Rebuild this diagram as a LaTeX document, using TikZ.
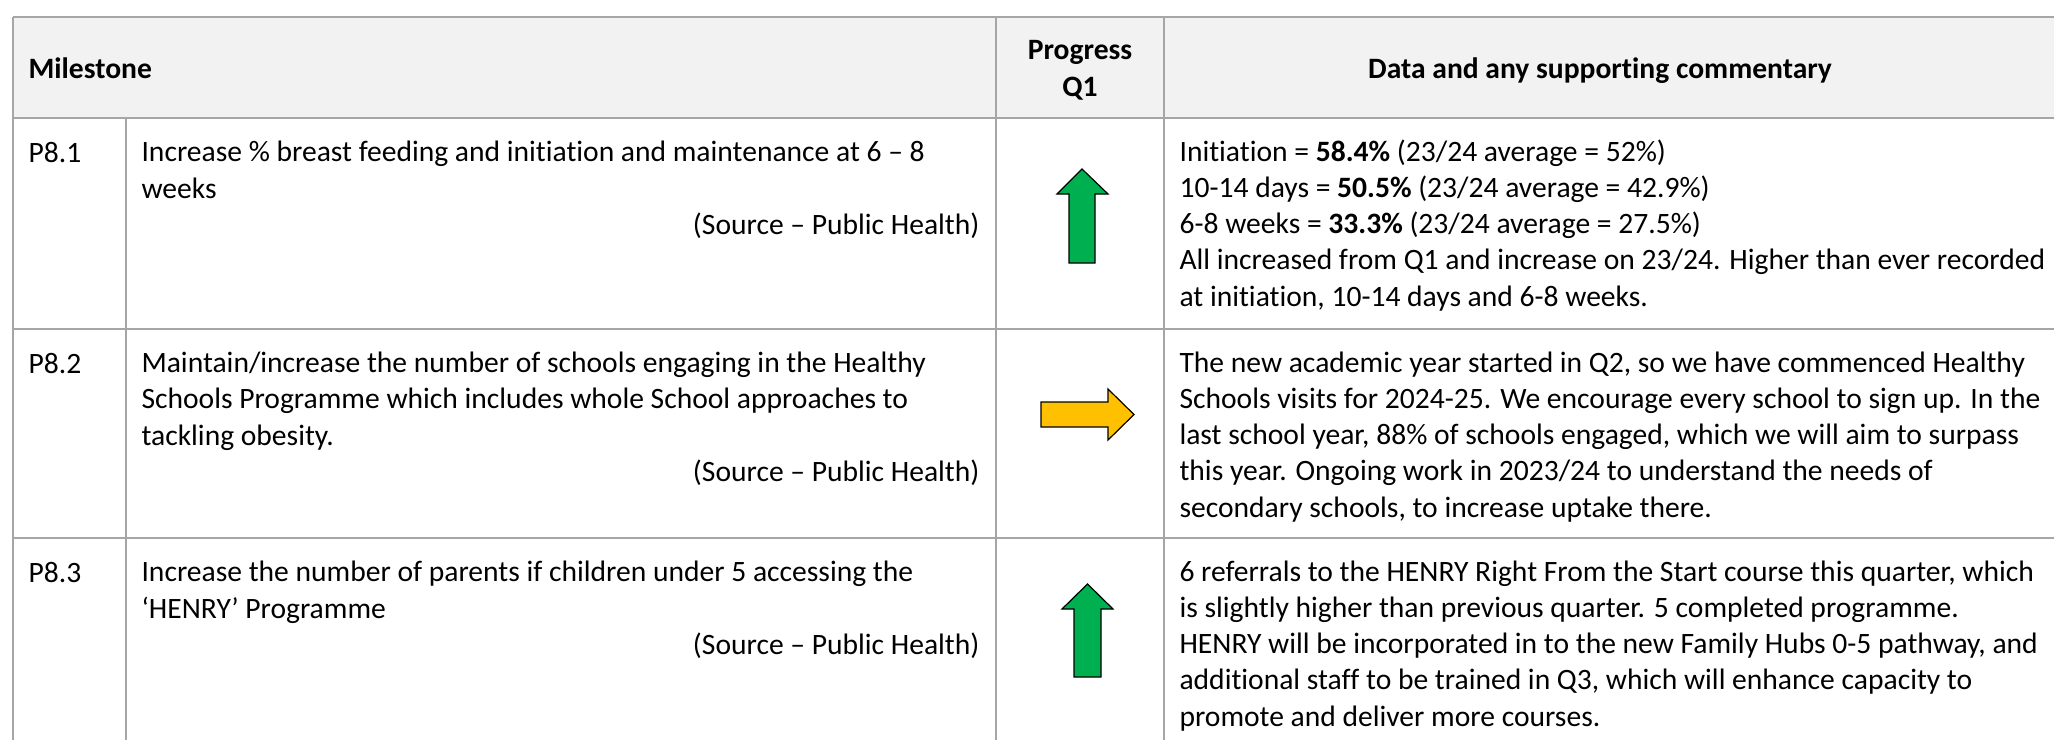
\documentclass[tikz,border=0pt]{standalone}
\usepackage{fontspec}
\setmainfont{Carlito}[Ligatures=NoCommon]
\usetikzlibrary{positioning}
\usetikzlibrary{shapes}

\definecolor{gridgray}{HTML}{A6A6A6}
\definecolor{headfill}{HTML}{F2F2F2}
\definecolor{upgreen}{HTML}{00B050}
\definecolor{flatamber}{HTML}{FFC000}

\begin{document}
\begin{tikzpicture}[x=0.372pt,y=-0.372pt]
	\tikzstyle{cell} = [anchor=base west, inner sep=0pt, align=left, font=\fontsize{11}{13.4}\selectfont]
	\tikzstyle{head} = [inner sep=0pt, align=center, font=\fontsize{11}{13.4}\selectfont\bfseries]
	\tikzstyle{source} = [anchor=base east, inner sep=0pt, font=\fontsize{11}{13.4}\selectfont]
	\tikzstyle{rule} = [draw=gridgray, line width=0.75pt]
	\tikzstyle{trend} = [draw=black, line width=0.45pt, line join=miter]
	\useasboundingbox (0,0) rectangle (2054,740);
	% header band and grid
	\fill [headfill] (13,17) rectangle (2054,118);
	\foreach \y in {17,118,329,538}
		\draw [rule] (13,\y) -- (2054,\y);
	\draw [rule] (13,17) -- (13,740);
	\draw [rule] (126,118) -- (126,740);
	\draw [rule] (996,17) -- (996,740);
	\draw [rule] (1164,17) -- (1164,740);
	% header (multi-line nodes sit on their last baseline)
	\node [head,anchor=base west] (milestone) at (28,78) {Milestone};
	\node [head,anchor=base] (progress) at (1080,96) {Progress\\Q1};
	\node [head,anchor=base] (commentary) at (1600,78) {Data and any supporting commentary};
	% P8.1
	\node [cell] (id1) at (28,162) {P8.1};
	\node [cell] (stone1) at (141,198) {Increase \% breast feeding and initiation and maintenance at 6 – 8\\weeks};
	\node [source] (src1) at (980,234) {(Source – Public Health)};
	\node [cell] (data1) at (1179,306) {Initiation = \textbf{58.4\%} (23/24 average = 52\%)\\
		10-14 days = \textbf{50.5\%} (23/24 average = 42.9\%)\\
		6-8 weeks = \textbf{33.3\%} (23/24 average = 27.5\%)\\
		All increased from Q1 and increase on 23/24. Higher than ever recorded\\
		at initiation, 10-14 days and 6-8 weeks.};
	\draw [trend,fill=upgreen] (1082,169) -- (1108,194) -- (1095,194) -- (1095,263) -- (1069,263) -- (1069,194) -- (1057,194) -- cycle;
	% P8.2
	\node [cell] (id2) at (28,373) {P8.2};
	\node [cell] (stone2) at (141,445) {Maintain/increase the number of schools engaging in the Healthy\\
		Schools Programme which includes whole School approaches to\\
		tackling obesity.};
	\node [source] (src2) at (980,481) {(Source – Public Health)};
	\node [cell] (data2) at (1179,517) {The new academic year started in Q2, so we have commenced Healthy\\
		Schools visits for 2024-25. We encourage every school to sign up. In the\\
		last school year, 88\% of schools engaged, which we will aim to surpass\\
		this year. Ongoing work in 2023/24 to understand the needs of\\
		secondary schools, to increase uptake there.};
	\draw [trend,fill=flatamber] (1041,402) -- (1108,402) -- (1108,389) -- (1134,414.5) -- (1108,440) -- (1108,427) -- (1041,427) -- cycle;
	% P8.3
	\node [cell] (id3) at (28,582) {P8.3};
	\node [cell] (stone3) at (141,618) {Increase the number of parents if children under 5 accessing the\\
		‘HENRY’ Programme};
	\node [source] (src3) at (980,654) {(Source – Public Health)};
	\node [cell] (data3) at (1179,726) {6 referrals to the HENRY Right From the Start course this quarter, which\\
		is slightly higher than previous quarter. 5 completed programme.\\
		HENRY will be incorporated in to the new Family Hubs 0-5 pathway, and\\
		additional staff to be trained in Q3, which will enhance capacity to\\
		promote and deliver more courses.};
	\draw [trend,fill=upgreen] (1087.5,584) -- (1113,609) -- (1101,609) -- (1101,677) -- (1074,677) -- (1074,609) -- (1062,609) -- cycle;
\end{tikzpicture}
\end{document}
